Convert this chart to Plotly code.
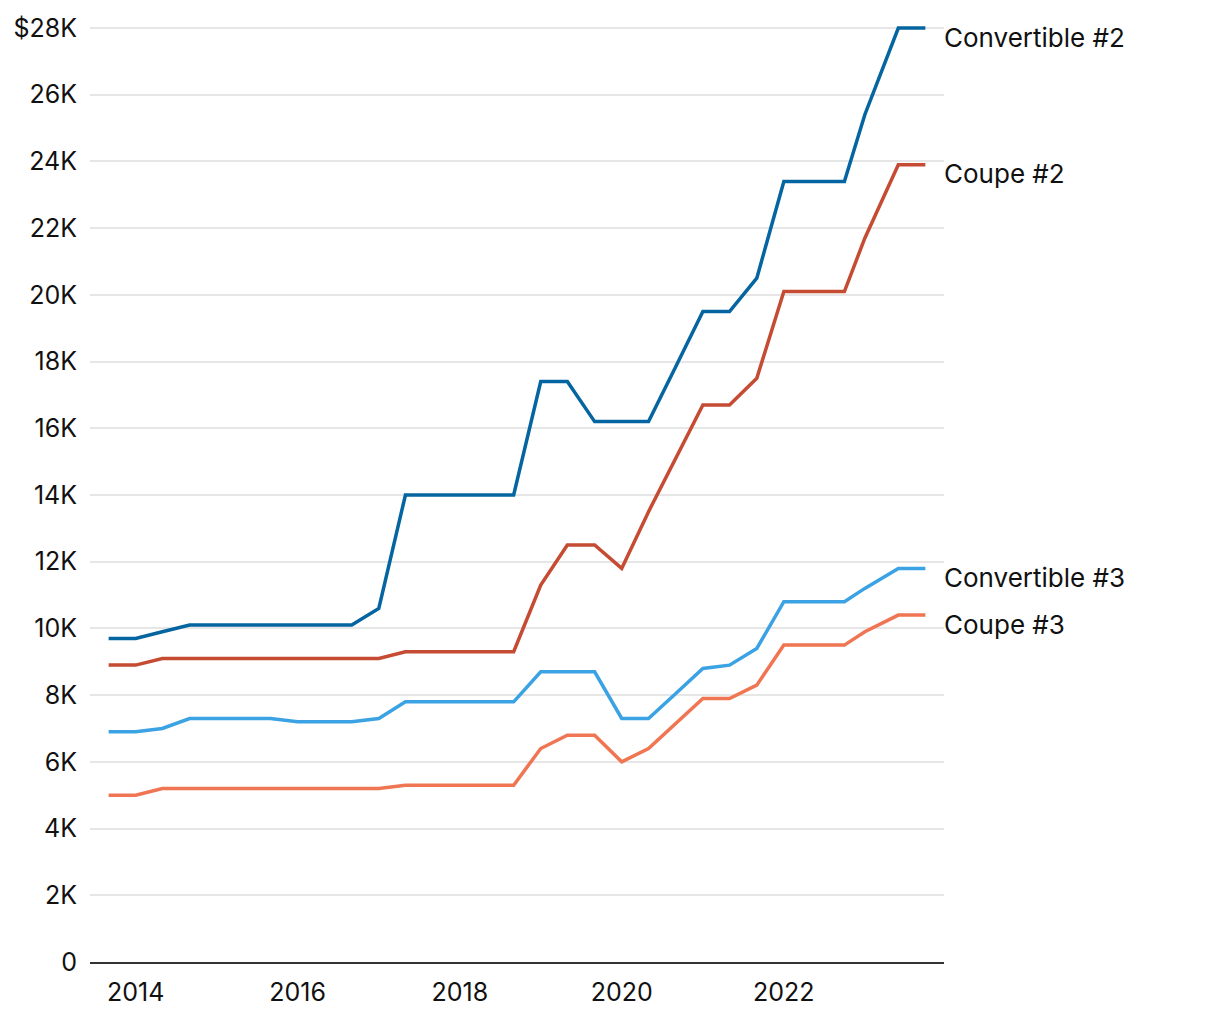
import plotly.graph_objects as go

dates = ["2013-09-01", "2014-01-01", "2014-05-01", "2014-09-01", "2015-01-01", "2015-05-01",
         "2015-09-01", "2016-01-01", "2016-05-01", "2016-09-01", "2017-01-01", "2017-05-01",
         "2017-09-01", "2018-01-01", "2018-05-01", "2018-09-01", "2019-01-01", "2019-05-01",
         "2019-09-01", "2020-01-01", "2020-05-01", "2020-09-01", "2021-01-01", "2021-05-01",
         "2021-09-01", "2022-01-01", "2022-10-01", "2023-01-01", "2023-06-01", "2023-10-01"]

convertible_2 = [9.7, 9.7, 9.9, 10.1, 10.1, 10.1, 10.1, 10.1, 10.1, 10.1, 10.6, 14.0,
                 14.0, 14.0, 14.0, 14.0, 17.4, 17.4, 16.2, 16.2, 16.2, 17.85, 19.5, 19.5,
                 20.5, 23.4, 23.4, 25.4, 28.0, 28.0]
coupe_2 = [8.9, 8.9, 9.1, 9.1, 9.1, 9.1, 9.1, 9.1, 9.1, 9.1, 9.1, 9.3,
           9.3, 9.3, 9.3, 9.3, 11.3, 12.5, 12.5, 11.8, 13.5, 15.1, 16.7, 16.7,
           17.5, 20.1, 20.1, 21.7, 23.9, 23.9]
convertible_3 = [6.9, 6.9, 7.0, 7.3, 7.3, 7.3, 7.3, 7.2, 7.2, 7.2, 7.3, 7.8,
                 7.8, 7.8, 7.8, 7.8, 8.7, 8.7, 8.7, 7.3, 7.3, 8.05, 8.8, 8.9,
                 9.4, 10.8, 10.8, 11.2, 11.8, 11.8]
coupe_3 = [5.0, 5.0, 5.2, 5.2, 5.2, 5.2, 5.2, 5.2, 5.2, 5.2, 5.2, 5.3,
           5.3, 5.3, 5.3, 5.3, 6.4, 6.8, 6.8, 6.0, 6.4, 7.15, 7.9, 7.9,
           8.3, 9.5, 9.5, 9.9, 10.4, 10.4]

series_names = ["Convertible #2", "Coupe #2", "Convertible #3", "Coupe #3"]
series_values = [convertible_2, coupe_2, convertible_3, coupe_3]
series_colors = ["#0565a0", "#c54b33", "#3ba2e3", "#f07552"]

y_tick_vals = [0, 2, 4, 6, 8, 10, 12, 14, 16, 18, 20, 22, 24, 26, 28]
y_tick_text = ["0", "2K", "4K", "6K", "8K", "10K", "12K", "14K", "16K", "18K",
               "20K", "22K", "24K", "26K", "$28K"]
x_tick_vals = ["2014-01-01", "2016-01-01", "2018-01-01", "2020-01-01", "2022-01-01"]
x_tick_text = ["2014", "2016", "2018", "2020", "2022"]

FONT = "Inter, 'Liberation Sans', Arial, sans-serif"

fig = go.Figure()
for name, vals, col in zip(series_names, series_values, series_colors):
    fig.add_trace(go.Scatter(
        x=dates, y=[v * 1000 for v in vals], mode="lines", name=name,
        line=dict(color=col, width=3.5), cliponaxis=False,
        hovertemplate="%{x|%b %Y}: $%{y:,.0f}<extra>" + name + "</extra>",
    ))
    fig.add_annotation(
        x=1, xref="paper", xanchor="left", xshift=-2,
        y=vals[-1] * 1000, yref="y", yanchor="middle", yshift=-9,
        text=name, showarrow=False, align="left",
        font=dict(family=FONT, size=26, color="#111111"),
    )

fig.update_layout(
    width=1220, height=1020,
    margin=dict(l=90, r=276, t=26, b=58),
    paper_bgcolor="white", plot_bgcolor="white",
    showlegend=False,
    font=dict(family=FONT, size=25, color="#111111"),
)
fig.update_xaxes(
    type="date", range=["2013-06-09", "2023-12-24"],
    tickvals=x_tick_vals, ticktext=x_tick_text,
    showgrid=False, zeroline=False,
    showline=True, linecolor="#333333", linewidth=2,
    ticks="", ticklabelstandoff=7,
    tickfont=dict(family=FONT, size=25, color="#111111"),
)
fig.update_yaxes(
    range=[0, 28060],
    tickvals=[v * 1000 for v in y_tick_vals], ticktext=y_tick_text,
    showgrid=True, gridcolor="#e6e6e6", gridwidth=1.5,
    zeroline=False, showline=False,
    ticks="", ticklabelstandoff=12,
    tickfont=dict(family=FONT, size=25, color="#111111"),
)

fig.write_html("out.html", config={"displayModeBar": False})

# remove the browser's default 8px body margin so the figure sits at the page origin
with open("out.html", "r", encoding="utf-8") as f:
    html = f.read()
html = html.replace("<body>", '<body style="margin:0;padding:0;overflow:hidden;">', 1)
with open("out.html", "w", encoding="utf-8") as f:
    f.write(html)
